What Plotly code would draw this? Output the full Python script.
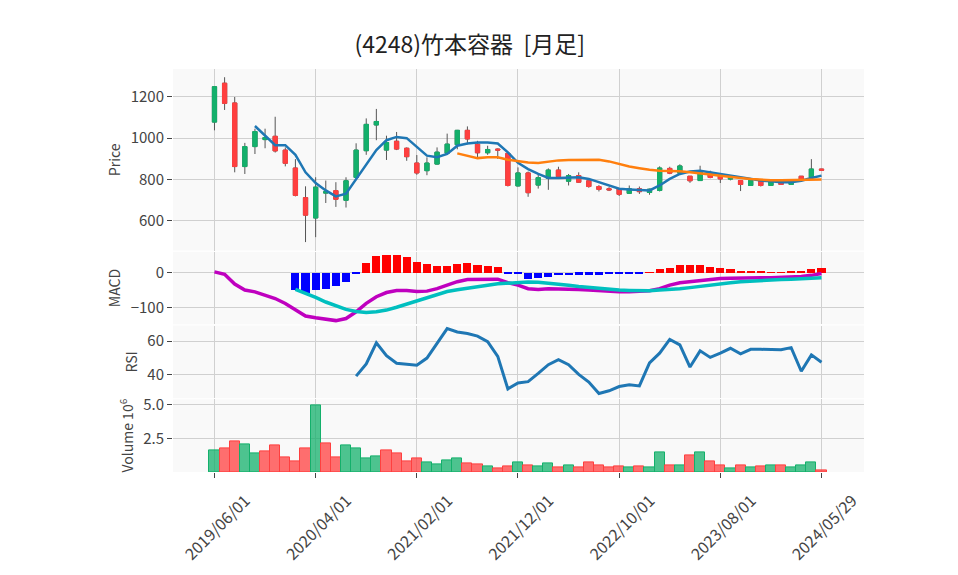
import pandas as pd
import plotly.graph_objects as go
from plotly.subplots import make_subplots

# ------------------------------------------------------------
# DATA (monthly bars)
# ------------------------------------------------------------

dates = [d.strftime("%Y/%m/%d") for d in pd.date_range("2019-06-01", "2024-05-01", freq="MS")]
dates.append("2024/05/29")

opens = [1078, 1267, 1171, 862, 959, 993, 1009, 942, 855, 711,
         612, 733, 745, 698, 809, 939, 1064, 942, 985, 951,
         879, 842, 874, 927, 968, 1038, 971, 929, 947, 926,
         768, 831, 772, 805, 845, 791, 818, 793, 765, 754,
         754, 732, 754, 736, 746, 853, 830, 815, 794, 834,
         818, 801, 794, 770, 791, 770, 789, 775, 815, 809,
         850]
highs = [1252, 1296, 1200, 977, 1046, 1046, 1104, 955, 898, 766,
         810, 794, 786, 810, 975, 1096, 1142, 1012, 1030, 955,
         918, 907, 955, 1022, 1040, 1057, 987, 963, 950, 930,
         858, 838, 826, 853, 861, 826, 834, 793, 772, 762,
         755, 770, 765, 755, 863, 861, 873, 815, 866, 842,
         826, 812, 794, 796, 791, 791, 789, 792, 815, 898,
         850]
lows = [1038, 1137, 834, 826, 923, 951, 930, 863, 717, 495,
        519, 685, 666, 663, 802, 919, 990, 894, 942, 890,
        822, 820, 871, 923, 946, 970, 899, 919, 899, 765,
        765, 715, 755, 749, 811, 770, 783, 759, 741, 743,
        719, 730, 729, 725, 741, 825, 825, 783, 794, 805,
        782, 795, 743, 768, 765, 768, 773, 773, 797, 809,
        842]
closes = [1250, 1169, 862, 959, 1032, 1003, 938, 878, 722, 626,
          762, 740, 703, 793, 942, 1067, 1081, 979, 947, 910,
          831, 879, 932, 971, 1038, 996, 929, 945, 942, 770,
          831, 735, 808, 845, 813, 818, 786, 765, 751, 749,
          727, 754, 740, 752, 855, 830, 865, 793, 841, 809,
          802, 808, 775, 794, 770, 789, 775, 789, 799, 850,
          844]

ma5 = [None] * 4 + [
    1059, 1011, 966, 966, 919, 834, 782, 746, 717, 730,
    802, 875, 942, 990, 1006, 1000, 958, 915, 907, 923,
    963, 974, 979, 979, 974, 931, 880, 850, 826, 807,
    807, 810, 810, 802, 786, 770, 754, 751, 748, 746,
    770, 802, 826, 838, 842, 834, 826, 815, 807, 799,
    794, 791, 786, 786, 793, 806, 818]
ma25 = [None] * 24 + [
    926, 915, 903, 907, 907, 895, 888, 882, 879, 886,
    892, 894, 895, 897, 895, 887, 874, 862, 854, 846,
    842, 841, 839, 834, 830, 823, 817, 810, 806, 801,
    797, 796, 796, 796, 796, 797, 799]

macd = [2, -5, -33, -50, -55, -64, -74, -88, -107, -124,
        -129, -134, -137, -131, -112, -88, -69, -57, -51, -51,
        -54, -53, -46, -36, -26, -20, -19, -19, -19, -29,
        -36, -46, -48, -46, -46, -47, -48, -50, -52, -54,
        -55, -55, -54, -52, -46, -36, -29, -26, -22, -19,
        -17, -16, -15, -15, -15, -15, -14, -13, -11, -8,
        -3]
signal = [None] * 8 + [
    -48, -59, -71, -84, -95, -105, -111, -114, -112, -107,
    -99, -90, -81, -71, -62, -54, -49, -44, -40, -36,
    -32, -30, -28, -27, -28, -30, -33, -36, -40, -43,
    -46, -48, -50, -51, -52, -52, -50, -49, -46, -43,
    -39, -36, -32, -29, -26, -24, -22, -21, -20, -19,
    -18, -17, -15]
hist = [None] * 8 + [
    -50, -57, -50, -45, -38, -25, -1, 27, 48, 52,
    50, 45, 30, 24, 19, 19, 24, 27, 22, 19,
    16, -1, -4, -17, -14, -12, -7, -6, -5, -5,
    -5, -4, -4, -4, -2, 0.4, 10, 14, 21, 21,
    21, 17, 14, 11, 6, 6, 3, 0.5, 0.5, 3,
    3, 10, 13]

rsi = [None] * 14 + [
    39.2, 46.4, 59.0, 51.3, 46.8, 46.4, 45.6, 49.9, 58.6, 67.4,
    65.4, 64.5, 62.9, 59.6, 50.9, 31.6, 35.1, 35.9, 40.8, 46.0,
    48.9, 46.0, 40.2, 35.7, 28.9, 30.5, 33.0, 34.0, 33.4, 47.0,
    52.8, 61.0, 57.7, 44.6, 54.2, 50.3, 52.8, 55.7, 52.4, 55.1,
    55.1, 54.8, 54.8, 56.1, 42.1, 51.8, 47.4]

volume = [1.57, 1.72, 2.30, 2.08, 1.35, 1.50, 1.94, 1.05, 0.76, 1.72,
          4.95, 2.16, 1.05, 1.94, 1.72, 0.98, 1.13, 1.64, 1.35, 0.76,
          0.98, 0.69, 0.54, 0.83, 0.98, 0.61, 0.54, 0.38, 0.30, 0.44,
          0.69, 0.51, 0.44, 0.61, 0.37, 0.51, 0.37, 0.69, 0.51, 0.37,
          0.44, 0.37, 0.44, 0.37, 1.42, 0.51, 0.51, 1.27, 1.42, 0.76,
          0.51, 0.29, 0.51, 0.37, 0.44, 0.51, 0.51, 0.37, 0.51, 0.69,
          0.10]

title = "(4248)竹本容器  [月足]"

# ------------------------------------------------------------
# STYLE
# ------------------------------------------------------------

UP = "#13b06b"
DOWN = "#ff3f3f"
UP_VOL = "rgba(19,176,107,0.75)"
DOWN_VOL = "rgba(255,63,63,0.75)"
GRID = "#d0d0d0"
BG = "#f9f9f9"
FONT = "Noto Sans CJK JP"

fig = make_subplots(rows=4, cols=1, shared_xaxes=True,
                    vertical_spacing=0.003, row_heights=[5, 2, 2, 2])

# ------------------------------------------------------------
# 1. CANDLES (wicks in grey, bodies drawn on top)
# ------------------------------------------------------------

fig.add_trace(go.Candlestick(
    x=dates, open=opens, high=highs, low=lows, close=closes,
    increasing=dict(line=dict(color="#555555", width=1), fillcolor=UP),
    decreasing=dict(line=dict(color="#555555", width=1), fillcolor=DOWN),
    showlegend=False, hoverinfo="skip"
), row=1, col=1)

body_hi = [max(o, c) for o, c in zip(opens, closes)]
body_lo = [min(o, c) for o, c in zip(opens, closes)]
fig.add_trace(go.Candlestick(
    x=dates, open=opens, high=body_hi, low=body_lo, close=closes,
    increasing=dict(line=dict(color=UP, width=1), fillcolor=UP),
    decreasing=dict(line=dict(color=DOWN, width=1), fillcolor=DOWN),
    showlegend=False
), row=1, col=1)

fig.add_trace(go.Scatter(x=dates, y=ma5, mode="lines",
                         line=dict(color="#1f77b4", width=2.5), showlegend=False),
              row=1, col=1)
fig.add_trace(go.Scatter(x=dates, y=ma25, mode="lines",
                         line=dict(color="#ff7f0e", width=2.5), showlegend=False),
              row=1, col=1)

# ------------------------------------------------------------
# 2. MACD
# ------------------------------------------------------------

hist_colors = ["red" if (h is not None and h >= 0) else "blue" for h in hist]
fig.add_trace(go.Bar(x=dates, y=hist, marker=dict(color=hist_colors, line=dict(width=0)),
                     width=0.8, showlegend=False), row=2, col=1)
fig.add_trace(go.Scatter(x=dates, y=macd, mode="lines",
                         line=dict(color="#bf00bf", width=3.5), showlegend=False),
              row=2, col=1)
fig.add_trace(go.Scatter(x=dates, y=signal, mode="lines",
                         line=dict(color="#00bfbf", width=3.5), showlegend=False),
              row=2, col=1)

# ------------------------------------------------------------
# 3. RSI
# ------------------------------------------------------------

fig.add_trace(go.Scatter(x=dates, y=rsi, mode="lines",
                         line=dict(color="#1f77b4", width=3), showlegend=False),
              row=3, col=1)

# ------------------------------------------------------------
# 4. VOLUME (coloured by close-to-close change)
# ------------------------------------------------------------

vol_up = [True] + [closes[i] >= closes[i - 1] for i in range(1, len(closes))]
fig.add_trace(go.Bar(
    x=dates, y=volume, width=1.0,
    marker=dict(color=[UP_VOL if u else DOWN_VOL for u in vol_up],
                line=dict(color=[UP if u else DOWN for u in vol_up], width=1)),
    showlegend=False
), row=4, col=1)

# ------------------------------------------------------------
# 5. LAYOUT
# ------------------------------------------------------------

fig.update_layout(
    title=dict(text=title, x=0.482, xanchor="center", y=0.9357, yanchor="middle",
               font=dict(size=23, color="#222222", family=FONT)),
    width=958, height=575,
    margin=dict(l=165, r=102, t=61, b=111),
    paper_bgcolor="white",
    plot_bgcolor=BG,
    font=dict(family=FONT, size=15, color="#444444"),
    showlegend=False,
    boxgap=0.4,
    bargap=0,
)

fig.update_xaxes(type="category", range=[-4.1, 64.2], tickvals=dates[::10],
                 showgrid=True, gridcolor=GRID, gridwidth=1, zeroline=False,
                 rangeslider_visible=False, tickangle=-45, ticks="")
fig.update_xaxes(ticks="outside", ticklen=5, tickcolor="#444444",
                 tickfont=dict(size=16), ticklabelshift=31, ticklabelstandoff=7,
                 row=4, col=1)

fig.update_yaxes(showgrid=True, gridcolor=GRID, gridwidth=1, zeroline=False,
                 ticks="outside", ticklen=5, tickcolor="#444444",
                 title_font=dict(size=14, color="#444444"), title_standoff=6)
fig.update_yaxes(title_text="Price", range=[454, 1336], dtick=200, row=1, col=1)
fig.update_yaxes(title_text="MACD", range=[-147.7, 59.3], dtick=100, row=2, col=1)
fig.update_yaxes(title_text="RSI", range=[26.1, 69.2], dtick=20, row=3, col=1)
fig.update_yaxes(title_text="Volume 10<sup>6</sup>", range=[0, 5.39],
                 tickvals=[2.5, 5.0], tickformat=".1f", row=4, col=1)

fig.write_html("out.html")
